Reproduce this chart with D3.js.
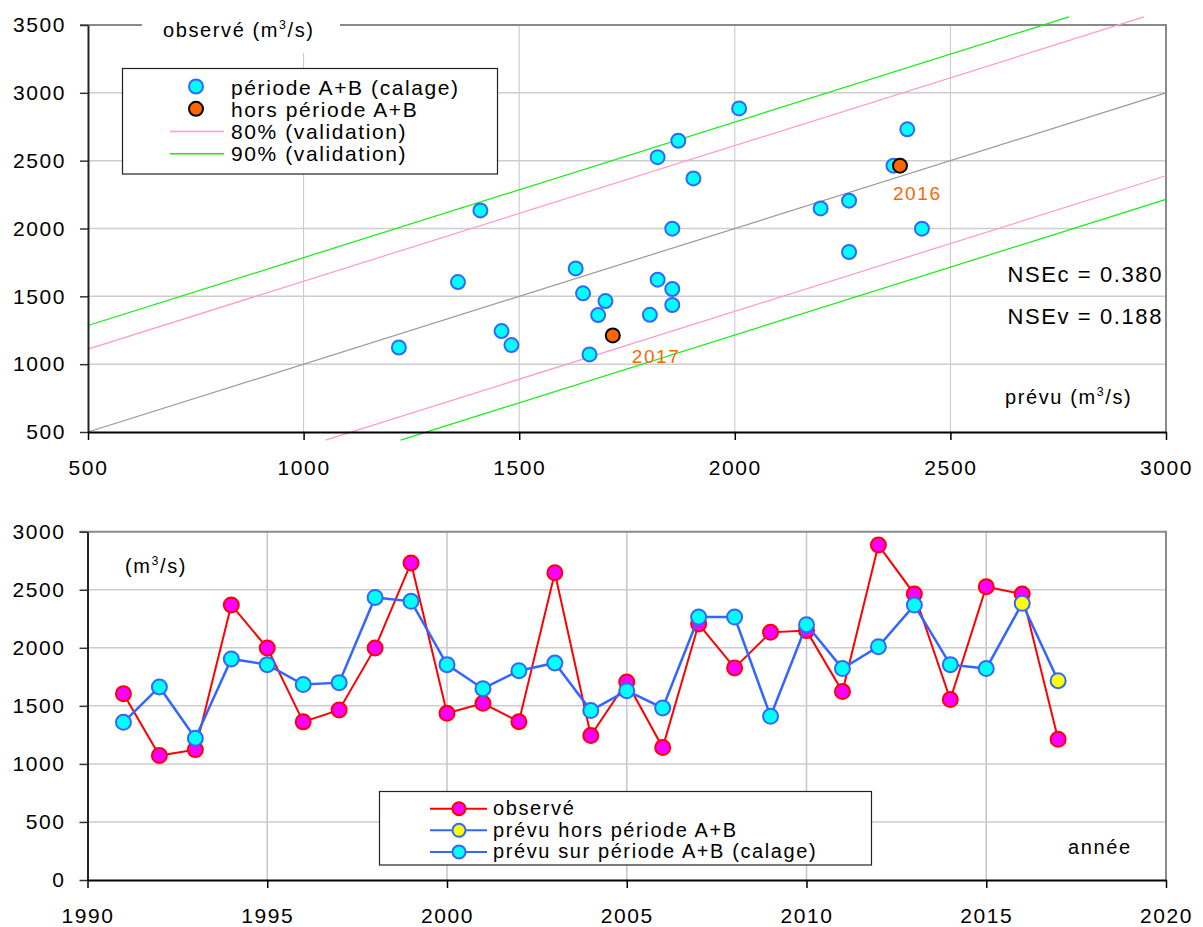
<!DOCTYPE html>
<html>
<head>
<meta charset="utf-8">
<script src="https://cdn.jsdelivr.net/npm/d3@7"></script>
<style>
  body { margin: 0; background: #fff; }
  svg text { font-family: "Liberation Sans", Arial, sans-serif; fill: #000; letter-spacing: 1.6px; }
</style>
</head>
<body>
<svg id="chart" width="1203" height="927"></svg>
<script>
// data
const years = [1991, 1992, 1993, 1994, 1995, 1996, 1997, 1998, 1999, 2000, 2001, 2002, 2003, 2004,
               2005, 2006, 2007, 2008, 2009, 2010, 2011, 2012, 2013, 2014, 2015, 2016, 2017];
const observed = [1605, 1072, 1123, 2369, 1999, 1362, 1465, 1999, 2731, 1436, 1522, 1364, 2647, 1244,
                  1706, 1141, 2205, 1827, 2133, 2148, 1623, 2885, 2463, 1554, 2526, 2463, 1212];
const forecast = [1358, 1663, 1221, 1904, 1855, 1683, 1700, 2434, 2400, 1855, 1648, 1803, 1869, 1459,
                  1631, 1482, 2265, 2265, 1410, 2199, 1821, 2010, 2368, 1855, 1821, 2383, 1717];
const outsideYears = [2016, 2017];   // hors période A+B

const bandLabels = ['80% (validation)', '90% (validation)'];
const bandOffsets = [611, 785];

const scatterLegend = ['période A+B (calage)', 'hors période A+B'];
const seriesLegend = ['observé', 'prévu hors période A+B', 'prévu sur période A+B (calage)'];
const nseLabels = ['NSEc = 0.380', 'NSEv = 0.188'];

const scatterTicksX = [500, 1000, 1500, 2000, 2500, 3000];
const scatterTicksY = [500, 1000, 1500, 2000, 2500, 3000, 3500];
const yearTicks = [1990, 1995, 2000, 2005, 2010, 2015, 2020];
const flowTicks = [0, 500, 1000, 1500, 2000, 2500, 3000];

const rows = years.map((yr, i) => ({
    year: yr, obs: observed[i], prev: forecast[i], out: outsideYears.includes(yr)
}));

const svg = d3.select('#chart');
const gridColor = '#cdcdcd';
const frameColor = '#8a8a8a';
const bandColors = ['#ff99cc', '#11ee11'];

// small helper for "(m3/s)" style labels
function unitLabel(g, xPos, yPos, before, size) {
    const t = g.append('text').attr('x', xPos).attr('y', yPos).style('font-size', size + 'px');
    t.append('tspan').text(before + '(m');
    t.append('tspan').text('3').style('font-size', (size * 0.62) + 'px').attr('dy', -8);
    t.append('tspan').text('/s)').attr('dy', 8);
    return t;
}

// ================= top chart : observé vs prévu =================
const x = d3.scaleLinear().domain([500, 3000]).range([88, 1166]);
const y = d3.scaleLinear().domain([500, 3500]).range([432, 25]);
const scat = svg.append('g');

// grid
scat.append('g').selectAll('line')
   .data(scatterTicksX.slice(1, -1))
   .join('line')
   .attr('x1', d => x(d)).attr('x2', d => x(d))
   .attr('y1', y(3500)).attr('y2', y(500))
   .attr('stroke', '#c6c6c6').attr('stroke-width', 1);
scat.append('g').selectAll('line')
   .data(scatterTicksY.slice(1, -1))
   .join('line')
   .attr('x1', x(500)).attr('x2', x(3000))
   .attr('y1', d => y(d)).attr('y2', d => y(d))
   .attr('stroke', gridColor).attr('stroke-width', 1.5);

// frame top / right
scat.append('path')
   .attr('d', `M${x(500) - 8},${y(3500)}H${x(3000)}V${y(500)}`)
   .attr('fill', 'none').attr('stroke', frameColor).attr('stroke-width', 2);

// 1:1 and validation bands, drawn a little past the frame
const lineMin = 440, lineMax = 3560;
const refLines = [{ o: 0, c: '#999999' }];
bandOffsets.forEach((o, i) => {
    refLines.push({ o: o, c: bandColors[i] }, { o: -o, c: bandColors[i] });
});
scat.append('g').selectAll('line')
   .data(refLines)
   .join('line')
   .attr('x1', d => x(Math.max(500, lineMin - d.o)))
   .attr('y1', d => y(Math.max(500, lineMin - d.o) + d.o))
   .attr('x2', d => x(Math.min(3000, lineMax - d.o)))
   .attr('y2', d => y(Math.min(3000, lineMax - d.o) + d.o))
   .attr('stroke', d => d.c).attr('stroke-width', 1.2);

// axes
scat.append('g')
   .attr('transform', `translate(${x(500)},0)`)
   .call(d3.axisLeft(y).tickValues(scatterTicksY).tickSize(8).tickSizeOuter(0).tickPadding(14).tickFormat(d3.format('d')))
   .call(g => g.select('.domain').attr('stroke', '#222').attr('stroke-width', 2))
   .call(g => g.selectAll('.tick line').attr('stroke', '#333').attr('stroke-width', 1.5))
   .call(g => g.selectAll('text').attr('font-size', 21).attr('font-family', null));
scat.append('g')
   .attr('transform', `translate(0,${y(500)})`)
   .call(d3.axisBottom(x).tickValues(scatterTicksX).tickSize(8).tickSizeOuter(0).tickPadding(20).tickFormat(d3.format('d')))
   .call(g => g.select('.domain').attr('stroke', '#000').attr('stroke-width', 2))
   .call(g => g.selectAll('.tick line').attr('stroke', '#000').attr('stroke-width', 1.5))
   .call(g => g.selectAll('text').attr('font-size', 21).attr('font-family', null));

// points
scat.append('g').selectAll('circle')
   .data(rows.filter(d => !d.out))
   .join('circle')
   .attr('cx', d => x(d.prev)).attr('cy', d => y(d.obs)).attr('r', 7)
   .attr('fill', '#00ffff').attr('stroke', '#3366ff').attr('stroke-width', 2);
scat.append('g').selectAll('circle')
   .data(rows.filter(d => d.out))
   .join('circle')
   .attr('cx', d => x(d.prev)).attr('cy', d => y(d.obs)).attr('r', 7)
   .attr('fill', '#ff6600').attr('stroke', '#000').attr('stroke-width', 2);

// year labels of the two validation points
const labelShift = { 2016: [-7, 34], 2017: [19, 28] };
scat.append('g').selectAll('text')
   .data(rows.filter(d => d.out))
   .join('text')
   .attr('x', d => x(d.prev) + labelShift[d.year][0])
   .attr('y', d => y(d.obs) + labelShift[d.year][1])
   .style('font-size', '19px').style('fill', '#ff6600')
   .text(d => d.year);

// title on the frame
scat.append('rect').attr('x', 142).attr('y', 8).attr('width', 198).attr('height', 45).attr('fill', '#fff');
unitLabel(scat, 163, 37, 'observé ', 20);
unitLabel(scat, 1005, 404, 'prévu ', 20);

scat.append('g').selectAll('text')
   .data(nseLabels)
   .join('text')
   .attr('x', 1163).attr('y', (d, i) => 282 + i * 42)
   .attr('text-anchor', 'end')
   .style('font-size', '22px')
   .text(d => d);

// legend
const lg = scat.append('g');
lg.append('rect').attr('x', 122.5).attr('y', 68.5).attr('width', 375).attr('height', 105.5)
  .attr('fill', '#fff').attr('stroke', '#222').attr('stroke-width', 1.2);
lg.selectAll('circle')
  .data(scatterLegend)
  .join('circle')
  .attr('cx', 196).attr('cy', (d, i) => 86.5 + i * 22.3).attr('r', 7)
  .attr('fill', (d, i) => i ? '#ff6600' : '#00ffff')
  .attr('stroke', (d, i) => i ? '#000' : '#3366ff').attr('stroke-width', 2);
lg.selectAll('line')
  .data(bandLabels)
  .join('line')
  .attr('x1', 170).attr('x2', 224)
  .attr('y1', (d, i) => 131.5 + i * 22.3).attr('y2', (d, i) => 131.5 + i * 22.3)
  .attr('stroke', (d, i) => bandColors[i]).attr('stroke-width', 1.4);
lg.selectAll('text')
  .data(scatterLegend.concat(bandLabels))
  .join('text')
  .attr('x', 231).attr('y', (d, i) => 94.5 + i * 22.3)
  .style('font-size', '21px')
  .text(d => d);

// ================= bottom chart : time series =================
const xb = d3.scaleLinear().domain([1990, 2020]).range([87.5, 1166]);
const yb = d3.scaleLinear().domain([0, 3000]).range([880, 531.7]);
const bot = svg.append('g');

bot.append('g').selectAll('line')
   .data(yearTicks.slice(1, -1))
   .join('line')
   .attr('x1', d => xb(d)).attr('x2', d => xb(d))
   .attr('y1', yb(3000)).attr('y2', yb(0))
   .attr('stroke', '#c6c6c6').attr('stroke-width', 1.5);
bot.append('g').selectAll('line')
   .data(flowTicks.slice(1, -1))
   .join('line')
   .attr('x1', xb(1990)).attr('x2', xb(2020))
   .attr('y1', d => yb(d)).attr('y2', d => yb(d))
   .attr('stroke', gridColor).attr('stroke-width', 1.5);
bot.append('path')
   .attr('d', `M${xb(1990) - 8},${yb(3000)}H${xb(2020)}V${yb(0)}`)
   .attr('fill', 'none').attr('stroke', frameColor).attr('stroke-width', 2);

bot.append('g')
   .attr('transform', `translate(${xb(1990)},0)`)
   .call(d3.axisLeft(yb).tickValues(flowTicks).tickSize(8).tickSizeOuter(0).tickPadding(14).tickFormat(d3.format('d')))
   .call(g => g.select('.domain').attr('stroke', '#222').attr('stroke-width', 2))
   .call(g => g.selectAll('.tick line').attr('stroke', '#333').attr('stroke-width', 1.5))
   .call(g => g.selectAll('text').attr('font-size', 21).attr('font-family', null));
bot.append('g')
   .attr('transform', `translate(0,${yb(0)})`)
   .call(d3.axisBottom(xb).tickValues(yearTicks).tickSize(8).tickSizeOuter(0).tickPadding(20).tickFormat(d3.format('d')))
   .call(g => g.select('.domain').attr('stroke', '#000').attr('stroke-width', 2))
   .call(g => g.selectAll('.tick line').attr('stroke', '#000').attr('stroke-width', 1.5))
   .call(g => g.selectAll('text').attr('font-size', 21).attr('font-family', null));

const obsLine = d3.line().x(d => xb(d.year)).y(d => yb(d.obs));
const prevLine = d3.line().x(d => xb(d.year)).y(d => yb(d.prev));

bot.append('path').datum(rows).attr('d', obsLine)
   .attr('fill', 'none').attr('stroke', '#ff0000').attr('stroke-width', 2);
bot.append('g').selectAll('circle')
   .data(rows)
   .join('circle')
   .attr('cx', d => xb(d.year)).attr('cy', d => yb(d.obs)).attr('r', 7.5)
   .attr('fill', '#ff00ff').attr('stroke', '#ff0000').attr('stroke-width', 2);

bot.append('path').datum(rows).attr('d', prevLine)
   .attr('fill', 'none').attr('stroke', '#3366ff').attr('stroke-width', 2.5);
bot.append('g').selectAll('circle')
   .data(rows)
   .join('circle')
   .attr('cx', d => xb(d.year)).attr('cy', d => yb(d.prev)).attr('r', 7.5)
   .attr('fill', d => d.out ? '#ffff00' : '#00ffff').attr('stroke', '#3366ff').attr('stroke-width', 2);

unitLabel(bot, 125, 573, '', 20);
bot.append('text').attr('x', 1068).attr('y', 854).style('font-size', '20px').text('année');

// legend
const lb = bot.append('g');
lb.append('rect').attr('x', 379.5).attr('y', 791.5).attr('width', 492).attr('height', 73.5)
  .attr('fill', '#fff').attr('stroke', '#222').attr('stroke-width', 1.2);
const legendRows = lb.selectAll('g')
  .data(seriesLegend)
  .join('g')
  .attr('transform', (d, i) => `translate(0,${808.7 + i * 21.6})`);
legendRows.append('line')
  .attr('x1', 430).attr('x2', 487).attr('y1', 0).attr('y2', 0)
  .attr('stroke', (d, i) => i ? '#3366ff' : '#ff0000').attr('stroke-width', 2);
legendRows.append('circle')
  .attr('cx', 459).attr('cy', 0).attr('r', 6.5)
  .attr('fill', (d, i) => ['#ff00ff', '#ffff00', '#00ffff'][i])
  .attr('stroke', (d, i) => i ? '#3366ff' : '#ff0000').attr('stroke-width', 2);
legendRows.append('text')
  .attr('x', 493).attr('y', 6.5)
  .style('font-size', '20px')
  .text(d => d);
</script>
</body>
</html>
